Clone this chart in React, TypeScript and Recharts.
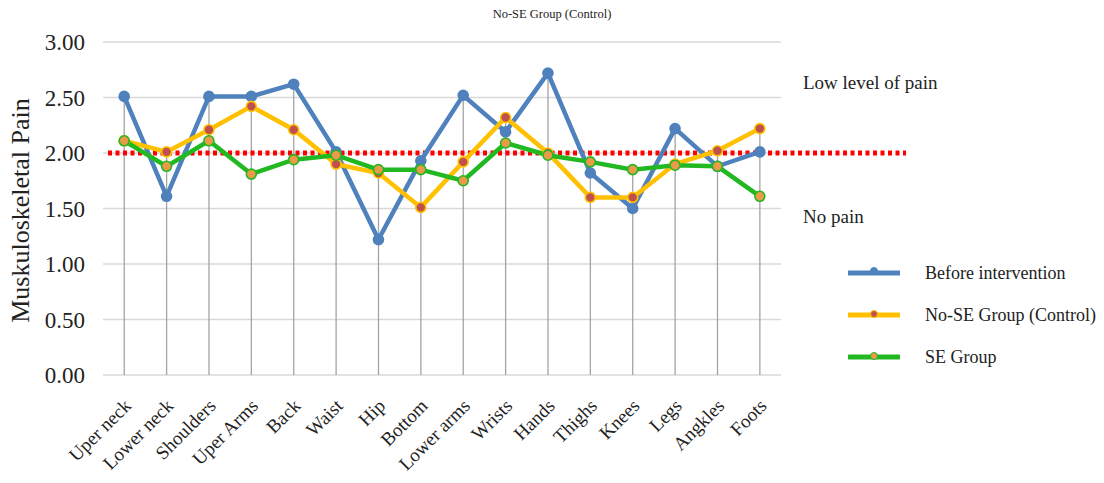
import { ComposedChart, Line, Bar, XAxis, YAxis, CartesianGrid, ReferenceLine } from 'recharts'

const parts = ['Uper neck', 'Lower neck', 'Shoulders', 'Uper Arms', 'Back', 'Waist', 'Hip', 'Bottom', 'Lower arms', 'Wrists', 'Hands', 'Thighs', 'Knees', 'Legs', 'Angkles', 'Foots']
const beforeIntervention = [2.51, 1.61, 2.51, 2.51, 2.62, 2.01, 1.22, 1.93, 2.52, 2.19, 2.72, 1.82, 1.5, 2.22, 1.88, 2.01]
const noSeGroup = [2.11, 2.01, 2.21, 2.42, 2.21, 1.9, 1.82, 1.51, 1.92, 2.32, 2.0, 1.6, 1.6, 1.9, 2.02, 2.22]
const seGroup = [2.11, 1.88, 2.11, 1.81, 1.94, 1.98, 1.85, 1.85, 1.75, 2.09, 1.98, 1.92, 1.85, 1.89, 1.88, 1.61]
const yTicks = [0, 0.5, 1, 1.5, 2, 2.5, 3]
const painThreshold = 2

const SERIF = '"Liberation Serif", "Times New Roman", serif'

const SERIES = [
  { key: 'before', name: 'Before intervention', line: '#4f81bd', dotFill: '#4f81bd', dotStroke: '#4f81bd' },
  { key: 'noSe', name: 'No-SE Group (Control)', line: '#ffc000', dotFill: '#c0504d', dotStroke: '#ffc000' },
  { key: 'se', name: 'SE Group', line: '#22b822', dotFill: '#eb9a4a', dotStroke: '#22b822' },
]

const data = parts.map((part, i) => ({
  part,
  before: beforeIntervention[i],
  noSe: noSeGroup[i],
  se: seGroup[i],
  // drop line runs from highest marker down to the axis
  top: Math.max(beforeIntervention[i], noSeGroup[i], seGroup[i]),
}))

function PartTick(props: { x?: number; y?: number; payload?: { value: string } }) {
  const { x = 0, y = 0, payload } = props
  const tx = x + 8
  const ty = y + 32
  return (
    <text
      x={tx}
      y={ty}
      transform={`rotate(-45 ${tx} ${ty})`}
      textAnchor="end"
      fontSize={19}
      fontFamily={SERIF}
      fill="#222"
    >
      {payload?.value}
    </text>
  )
}

function DropLine(props: { x?: number; y?: number; width?: number; height?: number }) {
  const { x = 0, y = 0, width = 0, height = 0 } = props
  const cx = x + width / 2
  return <line x1={cx} x2={cx} y1={y} y2={y + height} stroke="#a4a4a4" strokeWidth={1.3} />
}

function ThresholdLine(props: { x1?: number; x2?: number; y1?: number; y2?: number }) {
  const { x1 = 0, x2 = 0, y1 = 0 } = props
  return (
    <line x1={x1 + 5} x2={x2 + 125} y1={y1} y2={y1} stroke="#ff0000" strokeWidth={5} strokeDasharray="4 3.5" />
  )
}

function YLabel(props: { viewBox?: { x: number; y: number; width: number; height: number } }) {
  const vb = props.viewBox ?? { x: 0, y: 0, width: 0, height: 0 }
  const cx = 29
  const cy = vb.y + vb.height / 2 + 2
  return (
    <text
      x={cx}
      y={cy}
      transform={`rotate(-90 ${cx} ${cy})`}
      textAnchor="middle"
      fontSize={26}
      fontFamily={SERIF}
      fill="#222"
    >
      Muskuloskeletal Pain
    </text>
  )
}

function SeriesLegend() {
  return (
    <div style={{ position: 'absolute', left: 848, top: 252, fontFamily: SERIF, fontSize: 18, color: '#222' }}>
      {SERIES.map((s) => (
        <div key={s.key} style={{ display: 'flex', alignItems: 'center', height: 42 }}>
          <svg width={52} height={12} style={{ marginRight: 25 }}>
            <line x1={1} x2={51} y1={6} y2={6} stroke={s.line} strokeWidth={5} strokeLinecap="round" />
            <circle cx={26} cy={s.key === 'before' ? 4 : 5} r={3.5} fill={s.dotFill} stroke={s.dotStroke} strokeWidth={1} />
          </svg>
          <span>{s.name}</span>
        </div>
      ))}
    </div>
  )
}

export default function App() {
  return (
    <div style={{ position: 'relative', width: 1104, height: 483, margin: -8, background: '#fff' }}>
      <div
        style={{
          position: 'absolute',
          top: 7,
          left: 0,
          width: 1104,
          textAlign: 'center',
          fontFamily: SERIF,
          fontSize: 12.5,
          color: '#222',
        }}
      >
        No-SE Group (Control)
      </div>
      <div style={{ position: 'absolute', left: 803, top: 72, fontFamily: SERIF, fontSize: 19, color: '#222' }}>
        Low level of pain
      </div>
      <div style={{ position: 'absolute', left: 803, top: 206, fontFamily: SERIF, fontSize: 19, color: '#222' }}>
        No pain
      </div>
      <ComposedChart width={1104} height={483} data={data} margin={{ top: 42, right: 323, left: 0, bottom: 0 }}>
        <CartesianGrid horizontal vertical={false} stroke="#d9d9d9" strokeWidth={1.5} />
        <XAxis
          dataKey="part"
          interval={0}
          height={108}
          axisLine={false}
          tickLine={false}
          tickSize={0}
          tickMargin={0}
          tick={<PartTick />}
        />
        <YAxis
          domain={[0, 3]}
          ticks={yTicks}
          width={103}
          axisLine={false}
          tickLine={false}
          tickSize={0}
          tickMargin={18}
          tickFormatter={(v: number) => v.toFixed(2)}
          tick={{ fontSize: 23, fill: '#222', fontFamily: SERIF }}
          label={<YLabel />}
        />
        <Bar dataKey="top" shape={<DropLine />} isAnimationActive={false} legendType="none" />
        <ReferenceLine y={painThreshold} shape={<ThresholdLine />} />
        {SERIES.map((s) => (
          <Line
            key={s.key}
            dataKey={s.key}
            name={s.name}
            type="linear"
            stroke={s.line}
            strokeWidth={4.5}
            dot={{ r: 5, fill: s.dotFill, stroke: s.dotStroke, strokeWidth: 1.6 }}
            activeDot={false}
            isAnimationActive={false}
          />
        ))}
      </ComposedChart>
      <SeriesLegend />
    </div>
  )
}
